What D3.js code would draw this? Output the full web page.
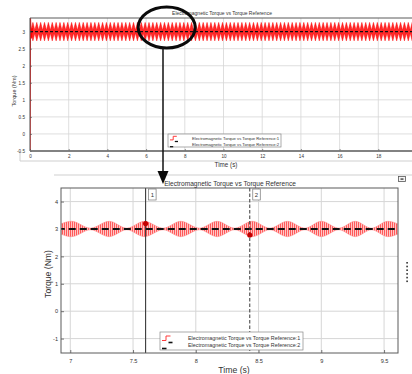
<!DOCTYPE html>
<html>
<head>
<meta charset="utf-8">
<script src="https://cdn.jsdelivr.net/npm/d3@7"></script>
<style>
  html, body { margin: 0; padding: 0; background: #fff; }
  svg { display: block; font-family: "Liberation Sans", Arial, sans-serif; }
</style>
</head>
<body>
<svg id="chart" width="412" height="374"></svg>
<script>
// ---- data ----------------------------------------------------------------
const chartTitle = "Electromagnetic Torque vs Torque Reference";
const legendLabels = [
  "Electromagnetic Torque vs Torque Reference:1",
  "Electromagnetic Torque vs Torque Reference:2"
];
const torqueReference = 3;            // Nm, reference level (dashed black)

// overview (0 - 20 s): tick values
const overviewXTicks = [0, 2, 4, 6, 8, 10, 12, 14, 16, 18];
const overviewYTicks = [-0.5, 0, 0.5, 1, 1.5, 2, 2.5, 3];
// start-up transient of the electromagnetic torque
const transientTime   = [0, 0.02, 0.06, 0.12];
const transientTorque = [-0.5, 3.4, 2.8, 3.1];
// ripple peaks seen in the overview trace (s) and their half-amplitude (Nm)
const overviewPeaks = [
  0.15, 0.35, 0.55, 0.75, 0.95, 1.15, 1.35, 1.55, 1.75, 1.95,
  2.15, 2.35, 2.55, 2.75, 2.95, 3.15, 3.35, 3.55, 3.75, 3.95,
  4.15, 4.35, 4.55, 4.75, 4.95, 5.15, 5.35, 5.55, 5.75, 5.95,
  6.15, 6.35, 6.55, 6.75, 6.95, 7.15, 7.35, 7.55, 7.75, 7.95,
  8.15, 8.35, 8.55, 8.75, 8.95, 9.15, 9.35, 9.55, 9.75, 9.95,
  10.15, 10.35, 10.55, 10.75, 10.95, 11.15, 11.35, 11.55, 11.75, 11.95,
  12.15, 12.35, 12.55, 12.75, 12.95, 13.15, 13.35, 13.55, 13.75, 13.95,
  14.15, 14.35, 14.55, 14.75, 14.95, 15.15, 15.35, 15.55, 15.75, 15.95,
  16.15, 16.35, 16.55, 16.75, 16.95, 17.15, 17.35, 17.55, 17.75, 17.95,
  18.15, 18.35, 18.55, 18.75, 18.95, 19.15, 19.35, 19.55, 19.75, 19.95
];
const overviewPeakAmp = 0.27;
const overviewNodeAmp = 0.04;

// zoomed view (about 6.9 - 9.6 s)
const zoomXTicks = [7, 7.5, 8, 8.5, 9, 9.5];
const zoomYTicks = [-1, 0, 1, 2, 3, 4];
// ripple envelope: times of maximum and minimum ripple (s) and half-amplitudes (Nm)
const zoomPeakTimes = [7.01, 7.31, 7.59, 7.88, 8.17, 8.45, 8.73, 9.00, 9.27, 9.53];
const zoomPeakAmps  = [0.28, 0.28, 0.28, 0.28, 0.28, 0.28, 0.28, 0.28, 0.28, 0.28];
const zoomNodeTimes = [6.86, 7.16, 7.45, 7.74, 8.03, 8.31, 8.59, 8.87, 9.14, 9.40, 9.67];
const zoomNodeAmps  = [0.03, 0.03, 0.03, 0.03, 0.03, 0.03, 0.03, 0.03, 0.03, 0.03, 0.03];
// measurement cursors
const cursorLabels = ["1", "2"];
const cursorTimes  = [7.6, 8.43];
const cursorValues = [3.2, 2.78];

// ---- setup ---------------------------------------------------------------
const svg = d3.select("#chart");
const defs = svg.append("defs");

// vertical hatch used for the dense high-frequency ripple
const hatch = defs.append("pattern")
  .attr("id", "ripple").attr("patternUnits", "userSpaceOnUse")
  .attr("width", 2).attr("height", 6);
hatch.append("rect").attr("width", 2).attr("height", 6).attr("fill", "#ffc6c6");
hatch.append("rect").attr("width", 1).attr("height", 6).attr("fill", "#ff5a5a");

const gridColor = "#d6d6d6";
const boxColor = "#5a5a5a";

function envelopeRows(times, amps) {
  return times.map((t, i) => ({ t, a: amps[i] }));
}

// ======================= overview panel (0 - 20 s) =======================
const ov = { left: 30, right: 417, top: 18, bottom: 151 };
const xOv = d3.scaleLinear().domain([0, 20]).range([ov.left, ov.right]);
const yOv = d3.scaleLinear().domain([-0.5, 3.4]).range([ov.bottom, ov.top]);

defs.append("clipPath").attr("id", "clipOv").append("rect")
  .attr("x", ov.left).attr("y", ov.top)
  .attr("width", 412 - ov.left).attr("height", ov.bottom - ov.top);

const gOv = svg.append("g");

// grid
gOv.append("g").selectAll("line").data(overviewXTicks).join("line")
  .attr("x1", d => xOv(d)).attr("x2", d => xOv(d))
  .attr("y1", ov.top).attr("y2", ov.bottom)
  .attr("stroke", gridColor).attr("stroke-width", 0.8);
gOv.append("g").selectAll("line").data(overviewYTicks).join("line")
  .attr("x1", ov.left).attr("x2", 412)
  .attr("y1", d => yOv(d)).attr("y2", d => yOv(d))
  .attr("stroke", gridColor).attr("stroke-width", 0.8);

// frame under the time axis
gOv.append("path")
  .attr("d", `M20,${ov.bottom}V161H412`)
  .attr("fill", "none").attr("stroke", "#cfcfcf").attr("stroke-width", 1);

// ripple envelope (peaks and nodes alternate)
const ovRows = [];
overviewPeaks.forEach((t, i) => {
  ovRows.push({ t: t - 0.1, a: overviewNodeAmp });
  ovRows.push({ t, a: overviewPeakAmp });
});
ovRows.push({ t: 20.05, a: overviewNodeAmp });

const ovArea = d3.area()
  .x(d => xOv(d.t))
  .y0(d => yOv(torqueReference - d.a))
  .y1(d => yOv(torqueReference + d.a));

const ovPlot = gOv.append("g").attr("clip-path", "url(#clipOv)");
ovPlot.append("path").datum(ovRows)
  .attr("d", ovArea)
  .attr("fill", "#ff2a2a").attr("stroke", "#ff0000").attr("stroke-width", 0.5);

// start-up transient
ovPlot.append("path")
  .datum(transientTime.map((t, i) => ({ t, v: transientTorque[i] })))
  .attr("d", d3.line().x(d => xOv(d.t)).y(d => yOv(d.v)))
  .attr("fill", "none").attr("stroke", "#ff0000").attr("stroke-width", 1.3);

// reference
ovPlot.append("path")
  .datum([{ t: 0, v: torqueReference }, { t: 20, v: torqueReference }])
  .attr("d", d3.line().x(d => xOv(d.t)).y(d => yOv(d.v)))
  .attr("fill", "none").attr("stroke", "#111").attr("stroke-width", 1.1)
  .attr("stroke-dasharray", "3,2");

// axes
const ovXAxis = gOv.append("g").attr("transform", `translate(0,${ov.bottom})`)
  .call(d3.axisBottom(xOv).tickValues(overviewXTicks).tickSize(-2).tickPadding(3.6)
    .tickFormat(d3.format("d")));
const ovYAxis = gOv.append("g").attr("transform", `translate(${ov.left},0)`)
  .call(d3.axisLeft(yOv).tickValues(overviewYTicks).tickSize(-2).tickPadding(5)
    .tickFormat(d => String(d)));
[ovXAxis, ovYAxis].forEach(a => {
  a.select(".domain").remove();
  a.selectAll(".tick line").attr("stroke", "#444").attr("stroke-width", 0.6);
  a.selectAll("text").attr("font-size", 4.6).attr("fill", "#333");
});

// plot frame
gOv.append("path")
  .attr("d", `M412,${ov.top}H${ov.left}V${ov.bottom}H412`)
  .attr("fill", "none").attr("stroke", boxColor).attr("stroke-width", 1);
gOv.append("line")
  .attr("x1", ov.left).attr("x2", 412).attr("y1", ov.bottom).attr("y2", ov.bottom)
  .attr("stroke", "#777").attr("stroke-width", 1.6);

// titles and labels
gOv.append("text").attr("x", 222).attr("y", 14.5).attr("text-anchor", "middle")
  .attr("font-size", 5).attr("fill", "#333").text(chartTitle);
gOv.append("text").attr("x", 226).attr("y", 166.5).attr("text-anchor", "middle")
  .attr("font-size", 6.3).attr("fill", "#333").text("Time (s)");
gOv.append("text")
  .attr("transform", "translate(16,91) rotate(-90)")
  .attr("text-anchor", "middle").attr("font-size", 5.6).attr("fill", "#333")
  .text("Torque (Nm)");

// legend
function drawLegend(g, x, y, w, h, fontSize, textX, rowY, scale) {
  g.append("rect").attr("x", x).attr("y", y).attr("width", w).attr("height", h)
    .attr("fill", "#fff").attr("stroke", "#888").attr("stroke-width", 0.7);
  // red step symbol
  g.append("path")
    .attr("d", `M${x + 2},${rowY[0] + 0.5 * scale}h${4 * scale}v${-4.5 * scale}h${4.5 * scale}`)
    .attr("fill", "none").attr("stroke", "#ff3a3a").attr("stroke-width", 1);
  // black dash symbols
  g.append("line").attr("x1", x + 8.5 * scale).attr("x2", x + 12.5 * scale)
    .attr("y1", rowY[0] + 2.5 * scale).attr("y2", rowY[0] + 2.5 * scale)
    .attr("stroke", "#111").attr("stroke-width", 1.6 * scale);
  g.append("line").attr("x1", x + 2).attr("x2", x + 6.5 * scale)
    .attr("y1", rowY[1] + 1.5 * scale).attr("y2", rowY[1] + 1.5 * scale)
    .attr("stroke", "#111").attr("stroke-width", 1.6 * scale);
  g.selectAll("text.leg").data(legendLabels).join("text").attr("class", "leg")
    .attr("x", textX).attr("y", (d, i) => rowY[i])
    .attr("font-size", fontSize).attr("fill", "#333").text(d => d);
}
drawLegend(gOv, 168, 134, 113, 13, 4.2, 192, [139.5, 145.5], 0.8);

// highlight ellipse and arrow down to the zoomed view
svg.append("ellipse").attr("cx", 166.7).attr("cy", 27.5).attr("rx", 28.5).attr("ry", 20.5)
  .attr("fill", "none").attr("stroke", "#0a0a0a").attr("stroke-width", 3);
svg.append("line").attr("x1", 163).attr("x2", 163).attr("y1", 48).attr("y2", 174)
  .attr("stroke", "#111").attr("stroke-width", 1.5);

// ======================= zoomed panel =======================
// separator line and window icon
svg.append("line").attr("x1", 54).attr("x2", 412).attr("y1", 175).attr("y2", 175)
  .attr("stroke", "#cfcfcf").attr("stroke-width", 1);
svg.append("rect").attr("x", 398.5).attr("y", 176.5).attr("width", 7).attr("height", 5)
  .attr("fill", "#f4f4f4").attr("stroke", "#555").attr("stroke-width", 0.8);
svg.append("rect").attr("x", 400.5).attr("y", 178.3).attr("width", 3).attr("height", 1.6)
  .attr("fill", "#555");

const zm = { left: 61, right: 398, top: 188, bottom: 353 };
const xZm = d3.scaleLinear().domain([6.926, 9.611]).range([zm.left, zm.right]);
const yZm = d3.scaleLinear().domain([-1.526, 4.496]).range([zm.bottom, zm.top]);

defs.append("clipPath").attr("id", "clipZm").append("rect")
  .attr("x", zm.left).attr("y", zm.top)
  .attr("width", zm.right - zm.left).attr("height", zm.bottom - zm.top);

const gZm = svg.append("g");
gZm.append("rect").attr("x", zm.left).attr("y", zm.top)
  .attr("width", zm.right - zm.left).attr("height", zm.bottom - zm.top).attr("fill", "#fff");

// grid
gZm.append("g").selectAll("line").data(zoomXTicks).join("line")
  .attr("x1", d => xZm(d)).attr("x2", d => xZm(d))
  .attr("y1", zm.top).attr("y2", zm.bottom)
  .attr("stroke", gridColor).attr("stroke-width", 1);
gZm.append("g").selectAll("line").data(zoomYTicks).join("line")
  .attr("x1", zm.left).attr("x2", zm.right)
  .attr("y1", d => yZm(d)).attr("y2", d => yZm(d))
  .attr("stroke", gridColor).attr("stroke-width", 1);

// ripple envelope
const zmRows = envelopeRows(zoomPeakTimes, zoomPeakAmps)
  .concat(envelopeRows(zoomNodeTimes, zoomNodeAmps))
  .sort((a, b) => a.t - b.t);
const zmArea = d3.area()
  .curve(d3.curveMonotoneX)
  .x(d => xZm(d.t))
  .y0(d => yZm(torqueReference - d.a))
  .y1(d => yZm(torqueReference + d.a));

const zmPlot = gZm.append("g").attr("clip-path", "url(#clipZm)");
zmPlot.append("path").datum(zmRows)
  .attr("d", zmArea)
  .attr("fill", "url(#ripple)").attr("stroke", "#ff8080").attr("stroke-width", 0.5);

zmPlot.append("path")
  .datum([{ t: 6.9, v: torqueReference }, { t: 9.7, v: torqueReference }])
  .attr("d", d3.line().x(d => xZm(d.t)).y(d => yZm(d.v)))
  .attr("fill", "none").attr("stroke", "#111").attr("stroke-width", 2)
  .attr("stroke-dasharray", "7,4");

// cursors
const cursors = cursorTimes.map((t, i) => ({ t, v: cursorValues[i], label: cursorLabels[i] }));
zmPlot.selectAll("line.cursor").data(cursors).join("line").attr("class", "cursor")
  .attr("x1", d => xZm(d.t)).attr("x2", d => xZm(d.t))
  .attr("y1", zm.top).attr("y2", zm.bottom)
  .attr("stroke", "#3a3a3a").attr("stroke-width", (d, i) => i === 0 ? 1.1 : 1)
  .attr("stroke-dasharray", (d, i) => i === 0 ? null : "3.5,2");
zmPlot.selectAll("circle.cursor").data(cursors).join("circle").attr("class", "cursor")
  .attr("cx", d => xZm(d.t)).attr("cy", d => yZm(d.v)).attr("r", 2.6)
  .attr("fill", "#c40000");
const tags = gZm.selectAll("g.tag").data(cursors).join("g").attr("class", "tag")
  .attr("transform", d => `translate(${xZm(d.t) + 3},${zm.top + 1})`);
tags.append("rect").attr("width", 7.5).attr("height", 11)
  .attr("fill", "#fff").attr("stroke", "#777").attr("stroke-width", 0.7);
tags.append("text").attr("x", 3.75).attr("y", 7.8).attr("text-anchor", "middle")
  .attr("font-size", 6).attr("fill", "#333").text(d => d.label);

// axes
const zmXAxis = gZm.append("g").attr("transform", `translate(0,${zm.bottom})`)
  .call(d3.axisBottom(xZm).tickValues(zoomXTicks).tickSize(-3).tickPadding(5.8)
    .tickFormat(d => String(d)));
const zmYAxis = gZm.append("g").attr("transform", `translate(${zm.left},0)`)
  .call(d3.axisLeft(yZm).tickValues(zoomYTicks).tickSize(-3).tickPadding(3)
    .tickFormat(d => String(d)));
[zmXAxis, zmYAxis].forEach(a => {
  a.select(".domain").remove();
  a.selectAll(".tick line").attr("stroke", "#444").attr("stroke-width", 0.7);
  a.selectAll("text").attr("font-size", 5.6).attr("fill", "#333");
});

gZm.append("rect").attr("x", zm.left).attr("y", zm.top)
  .attr("width", zm.right - zm.left).attr("height", zm.bottom - zm.top)
  .attr("fill", "none").attr("stroke", boxColor).attr("stroke-width", 1);

// labels
gZm.append("text").attr("x", 230).attr("y", 185.5).attr("text-anchor", "middle")
  .attr("font-size", 6.6).attr("fill", "#333").text(chartTitle);
gZm.append("text").attr("x", 234).attr("y", 373).attr("text-anchor", "middle")
  .attr("font-size", 8.7).attr("fill", "#333").text("Time (s)");
gZm.append("text")
  .attr("transform", "translate(48,274) rotate(-90)")
  .attr("text-anchor", "middle").attr("dy", "0.35em")
  .attr("font-size", 8.6).attr("fill", "#333").text("Torque (Nm)");

drawLegend(gZm, 160, 332, 143, 18, 5.4, 188, [340, 347], 1);

// panel side handle
svg.append("g").selectAll("rect").data([0, 1, 2, 3, 4, 5]).join("rect")
  .attr("x", 406.3).attr("y", d => 262 + d * 3.7).attr("width", 1.6).attr("height", 1.6)
  .attr("fill", "#333");

// arrow head (drawn last, over the title)
svg.append("path").attr("d", "M157.5,171L168.5,171L163,184Z").attr("fill", "#0a0a0a");
</script>
</body>
</html>
